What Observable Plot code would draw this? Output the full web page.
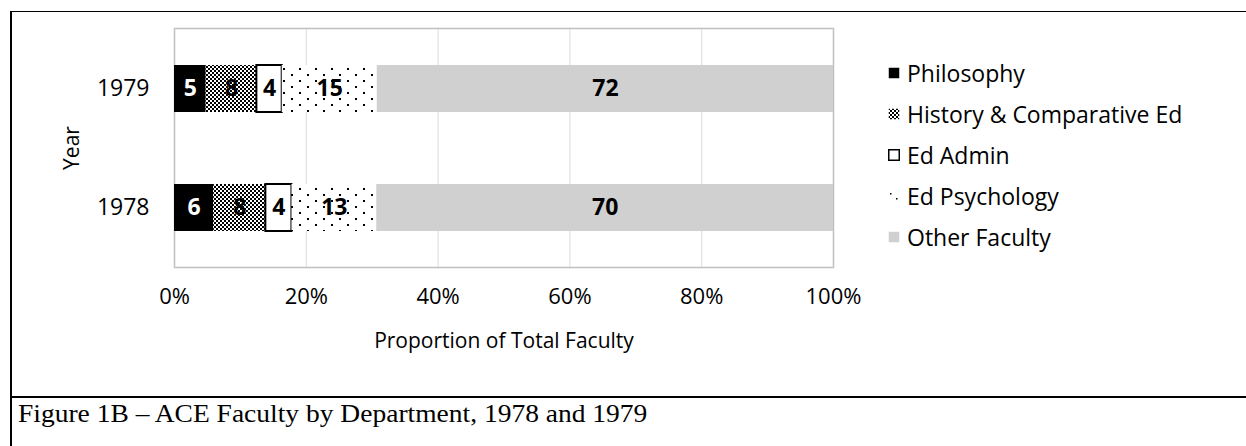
<!DOCTYPE html>
<html>
<head>
<meta charset="utf-8">
<script src="https://cdn.jsdelivr.net/npm/d3@7"></script>
<script src="https://cdn.jsdelivr.net/npm/@observablehq/plot@0.6"></script>
<style>
  html, body { margin: 0; padding: 0; background: #fff; }
  body { width: 1246px; height: 446px; position: relative; overflow: hidden; font-family: "Open Sans", sans-serif; }
  #frame { position: absolute; left: 10px; top: 11px; width: 1300px; height: 500px; border-left: 2px solid #000; border-top: 1px solid #000; }
  #rule { position: absolute; left: 10px; top: 396px; width: 1300px; height: 2px; background: #000; }
  #chart { position: absolute; left: 0; top: 0; }
  #legend { position: absolute; left: 888px; top: 52px; font-size: 23px; color: #000; }
  #legend .row { height: 41px; display: flex; align-items: center; white-space: nowrap; }
  #legend svg { margin-right: 7px; }
  #caption { position: absolute; left: 18px; top: 401px; font-family: "Liberation Serif", "Times New Roman", serif; font-size: 25px; line-height: 25px; color: #000; white-space: nowrap; transform: scaleX(1.1); transform-origin: 0 0; }
</style>
</head>
<body>
<svg width="0" height="0" style="position:absolute">
  <defs>
    <pattern id="hatch" width="4" height="4" patternUnits="userSpaceOnUse">
      <rect width="4" height="4" fill="#fff"/>
      <rect x="0" y="0" width="2" height="2" fill="#000"/>
      <rect x="2" y="2" width="2" height="2" fill="#000"/>
    </pattern>
    <pattern id="dots" width="16" height="12" patternUnits="userSpaceOnUse">
      <rect width="16" height="12" fill="#fff"/>
      <rect x="3" y="2" width="2" height="2" fill="#000"/>
      <rect x="11" y="8" width="2" height="2" fill="#000"/>
    </pattern>
    <pattern id="dotsLegend" width="12" height="12" patternUnits="userSpaceOnUse">
      <rect width="12" height="12" fill="#fff"/>
      <rect x="2" y="3" width="1.5" height="1.5" fill="#000"/>
      <rect x="8" y="8" width="1.5" height="1.5" fill="#000"/>
    </pattern>
  </defs>
</svg>
<div id="frame"></div>
<div id="rule"></div>
<div id="chart"></div>
<div id="legend"></div>
<div id="caption">Figure 1B – ACE Faculty by Department, 1978 and 1979</div>
<script>
const years = ["1979", "1978"];
const departments = ["Philosophy", "History & Comparative Ed", "Ed Admin", "Ed Psychology", "Other Faculty"];
const counts1979 = [5, 8, 4, 15, 72];
const counts1978 = [6, 8, 4, 13, 70];
const xTicks = [0, 0.2, 0.4, 0.6, 0.8, 1];
const fills = ["#000000", "url(#hatch)", "#ffffff", "url(#dots)", "#d0d0d0"];
const labelColors = ["#ffffff", "#000000", "#000000", "#000000", "#000000"];

const seriesByYear = {"1979": counts1979, "1978": counts1978};
const data = [];
for (const y of years) {
  departments.forEach((dept, i) => data.push({year: y, dept, value: seriesByYear[y][i], idx: i}));
}

const chart = Plot.plot({
  width: 860,
  height: 370,
  marginLeft: 174,
  marginRight: 27,
  marginTop: 28,
  marginBottom: 103,
  style: {fontFamily: "Open Sans, sans-serif", fontSize: "22px", color: "#000", background: "transparent", overflow: "visible"},
  x: {domain: [0, 1]},
  y: {domain: years, paddingInner: 0.607, paddingOuter: 0.303},
  color: {domain: departments, range: fills},
  marks: [
    Plot.gridX(xTicks, {stroke: "#d9d9d9", strokeOpacity: 1, strokeWidth: 1}),
    Plot.frame({stroke: "#bfbfbf", strokeWidth: 1.5}),
    Plot.barX(data, Plot.stackX({
      x: "value", y: "year", offset: "normalize", order: null,
      fill: "dept",
      stroke: d => d.dept === "Ed Admin" ? "#000" : "none",
      strokeWidth: 2
    })),
    Plot.text(data, Plot.stackX({
      x: "value", y: "year", offset: "normalize", order: null,
      text: d => String(d.value),
      fill: d => labelColors[d.idx],
      fontWeight: "bold",
      fontSize: 23
    })),
    Plot.axisX(xTicks, {tickSize: 0, tickPadding: 21, tickFormat: d3.format(".0%"), fontSize: 22, label: null}),
    Plot.axisX({tickSize: 0, ticks: [], label: "Proportion of Total Faculty", labelArrow: "none", labelAnchor: "center", labelOffset: 80, fontSize: 21}),
    Plot.axisY({tickSize: 0, tickPadding: 25, fontSize: 23, label: null}),
    Plot.axisY({tickSize: 0, ticks: [], label: "Year", labelArrow: "none", labelAnchor: "center", labelOffset: 110, fontSize: 21})
  ]
});
document.getElementById("chart").appendChild(chart);

// Legend (HTML), swatches use the same fills
const legend = document.getElementById("legend");
const legendFills = ["#000000", "url(#hatch)", "#ffffff", "url(#dotsLegend)", "#d0d0d0"];
departments.forEach((dept, i) => {
  const row = document.createElement("div");
  row.className = "row";
  const stroke = i === 2 ? ' stroke="#000" stroke-width="1.5"' : "";
  row.innerHTML = `<svg width="12" height="12"><rect x="0.75" y="0.75" width="10.5" height="10.5" fill="${legendFills[i]}"${stroke}/></svg><span>${dept}</span>`;
  legend.appendChild(row);
});
</script>
</body>
</html>
